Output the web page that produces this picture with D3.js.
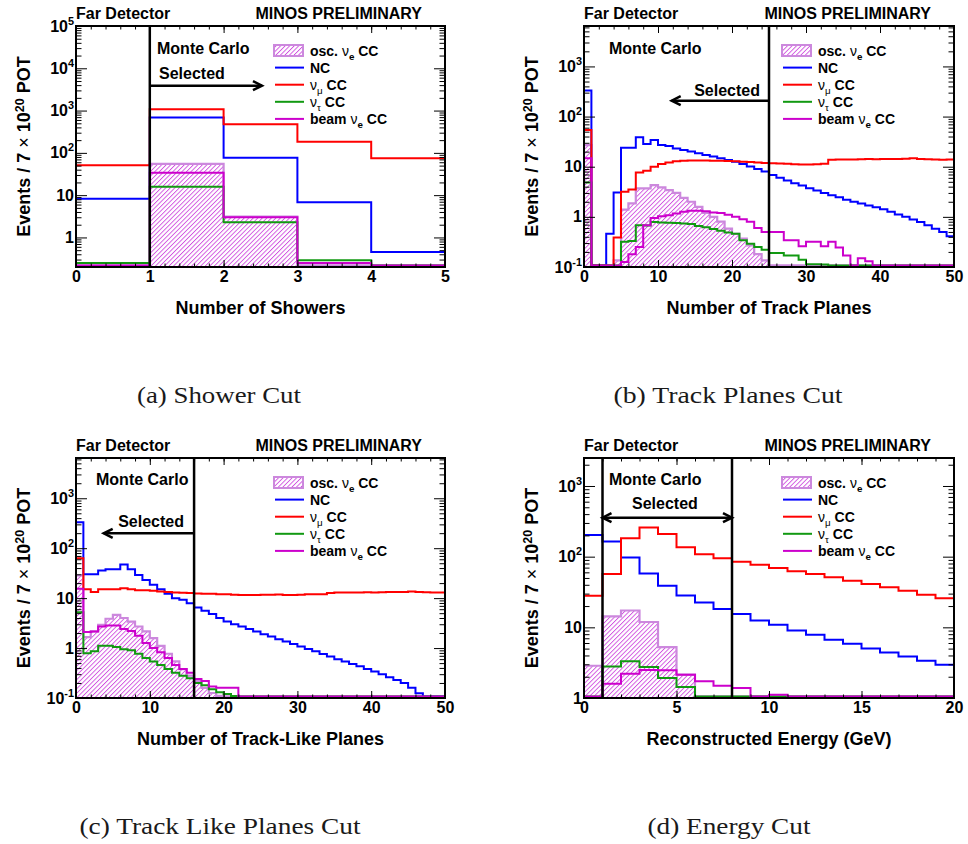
<!DOCTYPE html>
<html><head><meta charset="utf-8">
<script src="https://cdn.jsdelivr.net/npm/d3@7"></script>
<style>body{margin:0;background:#fff}svg{display:block}</style>
</head><body>
<svg id="c" width="968" height="844"></svg>
<script>
// ---------------- DATA ----------------
// (a) Number of showers, 5 bins 0..5
const aNC      = [8.2, 683, 77, 6.8, 0.45];
const aNumu    = [51, 1070, 475, 182, 75];
const aNutau   = [0.25, 15.7, 2.3, 0.29, 0];
const aBeamNue = [0, 34, 3.0, 0.25, 0];
const aOscNue  = [0, 55, 3.1, 0, 0];

// (b) Number of track planes, 50 bins 0..50
const bNC = [331,0,0,0.46,3.07,24,24,38.6,28.4,34,27,26,23,21.5,20,18.6,17.2,16.0,14.8,13.6,
  12.6,11.3,10.1,9.0,8.0,6.8,6.0,5.3,4.7,4.2,3.7,3.35,3.0,2.7,2.45,2.2,2.0,1.85,1.68,1.55,
  1.42,1.27,1.12,1.0,0.89,0.79,0.68,0.58,0.5,0.41];
const bNumu = [54,0,0,0,0.386,3.16,3.5,7.7,8.3,10,11.3,12.2,12.8,13.1,13.3,13.3,13.3,13.2,13.1,13.0,
  12.8,12.6,12.4,12.1,11.9,11.7,11.6,11.5,11.2,11.1,11.1,11.2,11.5,13.8,13.9,14.0,14.0,14.1,14.2,14.1,
  14.2,14.3,14.2,14.4,14.8,14.3,14.1,14.0,13.8,14.0];
const bNutau = [4.86,0,0,0,0,0.32,0.33,0.68,0.67,0.79,0.77,0.76,0.75,0.74,0.72,0.66,0.62,0.57,0.53,0.49,
  0.46,0.34,0.29,0.25,0.22,0.19,0.19,0.17,0.17,0.14,0.114,0.114,0.112,0,0,0,0,0,0,0,
  0,0,0,0,0,0,0,0,0,0];
const bBeamNue = [14.7,0,0,0,0,0.126,0.18,0.25,0.68,0.95,1.03,1.08,1.17,1.26,1.32,1.32,1.3,1.22,1.2,1.1,
  1.0,0.9,0.8,0.6,0.5,0.5,0.5,0.34,0.34,0.26,0.32,0.32,0.26,0.32,0.245,0.17,0,0.15,0.13,0,
  0,0,0,0,0,0,0,0,0,0];
const bOscNue = [27,0,0,0,0.136,1.4,1.85,3.7,3.7,4.3,3.86,3.4,3.0,2.4,2.0,1.58,1.2,1.0,0.8,0.58,
  0.46,0.37,0.27,0.18,0.136,0,0,0,0,0,0,0,0,0,0,0,0,0,0,0,
  0,0,0,0,0,0,0,0,0,0];

// (c) Number of track-like planes, 50 bins 0..50
const cNC = [331,30.2,30,35.8,38,38,47,38,29,23,18.5,15,12.2,10,9.3,7.9,6.5,5.6,4.8,4.0,
  3.4,3.0,2.7,2.4,2.15,1.9,1.7,1.5,1.35,1.2,1.08,0.96,0.86,0.76,0.68,0.6,0.54,0.48,0.43,0.38,
  0.34,0.3,0.26,0.23,0.2,0.16,0.125,0,0,0];
const cNumu = [63,15.1,13.2,15.1,15.1,15.1,15.8,15.1,14.3,14.3,14.0,13.5,13.2,13.0,12.8,12.6,12.4,12.2,12.2,12.0,
  11.9,11.7,11.6,11.5,11.6,11.7,11.7,11.8,11.6,11.5,11.7,11.9,12.0,11.9,12.6,12.9,13.0,12.9,13.0,13.1,
  13.0,13.1,13.2,13.3,13.3,13.5,13.2,13.1,13.0,13.0];
const cNutau = [5.2,0.79,0.86,1.11,1.11,1.05,0.95,0.9,0.77,0.63,0.54,0.46,0.38,0.32,0.28,0.25,0.2,0.18,0.15,0.13,
  0.12,0.11,0,0,0,0,0,0,0,0,0,0,0,0,0,0,0,0,0,0,0,0,0,0,0,0,0,0,0,0];
const cBeamNue = [15.4,2.09,2.15,2.7,2.84,2.84,2.4,2.2,1.76,1.26,1.0,0.82,0.63,0.46,0.38,0.32,0.24,0.22,0.17,0.16,
  0.16,0.16,0,0,0,0,0,0,0,0,0,0,0,0,0,0,0,0,0,0,0,0,0,0,0,0,0,0,0,0];
const cOscNue = [28.4,1.66,2.15,2.93,3.86,4.6,4.0,3.4,2.7,2.15,1.58,1.11,0.77,0.54,0.38,0.28,0.22,0.16,0.126,0.11,
  0,0,0,0,0,0,0,0,0,0,0,0,0,0,0,0,0,0,0,0,0,0,0,0,0,0,0,0,0,0];

// (d) Reconstructed energy, 20 bins 0..20 GeV
const dNumu = [27.9,57,182,258,210,136,108,95,85,77,69,62,57,51,45.5,41,37,33,28.8,25.9];
const dNC = [203,164,97,58,38.7,28.2,22.5,18.1,15.4,12.5,10.9,9.0,7.85,6.67,5.86,5.03,4.42,3.88,3.37,2.96];
const dOscNue = [2.86,14.3,17.3,11.9,5.26,2.14,0,0,0,0,0,0,0,0,0,0,0,0,0,0];
const dNutau = [1.05,2.8,3.3,2.74,1.92,1.43,1.02,1.0,0,0,0,0,0,0,0,0,0,0,0,0];
const dBeamNue = [0.9,1.59,2.2,2.5,2.46,2.14,1.72,1.49,1.38,1.05,1.11,1.05,0.98,0,0,0,0,0,0,0];

// Axis / annotation definitions
const xTitles = ["Number of Showers","Number of Track Planes","Number of Track-Like Planes","Reconstructed Energy (GeV)"];
const captions = ["(a) Shower Cut","(b) Track Planes Cut","(c) Track Like Planes Cut","(d) Energy Cut"];
const xRanges = [[0,5],[0,50],[0,50],[0,20]];
const nBins = [5,50,50,20];
const yRanges = [[0.2,1e5],[0.1,6400],[0.1,6400],[1,2490]];
const xMajorStep = [1,10,10,5];
const xMinorStep = [0.2,2,2,1];
const cutValues = [[1],[25],[16],[1,8]];
const arrowSpans = [[1,2.52],[25,11.85],[16,3.75],[1,8]];
const legendLabels = [
  [{t:"osc. "},{t:"ν",n:1},{t:"e",sub:1},{t:" CC"}],
  [{t:"NC"}],
  [{t:"ν",n:1},{t:"μ",sub:1,n:1},{t:" CC"}],
  [{t:"ν",n:1},{t:"τ",sub:1,n:1},{t:" CC"}],
  [{t:"beam "},{t:"ν",n:1},{t:"e",sub:1},{t:" CC"}]
];

// ---------------- LAYOUT / STYLE ----------------
const FONT = "'Liberation Sans', Arial, Helvetica, sans-serif";
const C = {nc:"#0000ff", numu:"#ff0000", nutau:"#119911", beam:"#cc00cc", osc:"#cc88dd", hatch:"#d050e0"};
const frames = [
  {left:76, top:26, w:369, h:241},
  {left:584, top:26, w:370, h:241},
  {left:76, top:458, w:369, h:240},
  {left:584, top:458, w:370, h:240}
];
const mcPos = [[81,28],[25,28],[20,27],[25,27]];
const selPos = [[83,53,"start"],[176,70,"end"],[108,69,"end"],[48,51,"start"]];
const arrowDy = [59.7,74.7,75.3,59.7];
const capPos = [[219,403],[728,403],[220,834],[729,834]];
const capWidth = [164, 229, 281, 163];

const svg = d3.select("#c");
svg.append("rect").attr("width",968).attr("height",844).attr("fill","#fff");
const defs = svg.append("defs");
const pat = defs.append("pattern").attr("id","hatch").attr("patternUnits","userSpaceOnUse")
  .attr("width",3.2).attr("height",3.2).attr("patternTransform","rotate(45)");
pat.append("rect").attr("x",0).attr("y",0).attr("width",3.2).attr("height",3.2).attr("fill","#fff");
pat.append("rect").attr("x",0).attr("y",0).attr("width",0.9).attr("height",3.2).attr("fill",C.hatch);

function rich(textSel, parts) {
  let shift = 0;
  parts.forEach(p => {
    const ts = textSel.append("tspan").text(p.t);
    let want = p.sub ? 4 : (p.sup ? -6 : 0);
    if (want !== shift) { ts.attr("dy", want - shift); shift = want; }
    if (p.sub || p.sup) ts.attr("font-size","70%");
    if (p.n) ts.attr("font-weight","normal");
  });
}

function supLabel(textSel, v) {
  const e = Math.round(Math.log10(v));
  textSel.text(null);
  if (e === 0) { textSel.append("tspan").text("1"); return; }
  if (e === 1) { textSel.append("tspan").text("10"); return; }
  textSel.append("tspan").text("10");
  textSel.append("tspan").attr("dy",-7).attr("font-size","68%").text(e < 0 ? "-" + (-e) : String(e));
}

const series = [
  {nc:aNC, numu:aNumu, nutau:aNutau, beam:aBeamNue, osc:aOscNue},
  {nc:bNC, numu:bNumu, nutau:bNutau, beam:bBeamNue, osc:bOscNue},
  {nc:cNC, numu:cNumu, nutau:cNutau, beam:cBeamNue, osc:cOscNue},
  {nc:dNC, numu:dNumu, nutau:dNutau, beam:dBeamNue, osc:dOscNue}
];

frames.forEach((f, i) => {
  const g = svg.append("g").attr("font-family", FONT).attr("font-weight","bold");
  const x = d3.scaleLinear().domain(xRanges[i]).range([f.left, f.left + f.w]);
  const y = d3.scaleLog().domain(yRanges[i]).range([f.top + f.h, f.top]);
  const ymin = yRanges[i][0];
  const n = nBins[i];
  const bw = (xRanges[i][1] - xRanges[i][0]) / n;
  const edges = d3.range(n + 1).map(k => xRanges[i][0] + k * bw);
  const pts = vals => vals.map((v, k) => [edges[k], v]).concat([[edges[n], vals[n - 1]]]);
  const bottomY = f.top + f.h;
  const clampY = v => Math.min(y(Math.max(v, ymin)), bottomY - 1.6);
  const v0 = v => y(Math.max(v, ymin));
  const line = d3.line().x(d => x(d[0])).y(d => clampY(d[1])).curve(d3.curveStepAfter);
  const area = d3.area().x(d => x(d[0])).y0(bottomY).y1(d => v0(d[1])).curve(d3.curveStepAfter);
  const s = series[i];

  // hatched osc nue
  g.append("path").attr("d", area(pts(s.osc))).attr("fill","url(#hatch)");
  g.append("path").attr("d", line(pts(s.osc))).attr("fill","none").attr("stroke",C.osc).attr("stroke-width",2.2);
  [["nc",C.nc],["numu",C.numu],["nutau",C.nutau],["beam",C.beam]].forEach(([k,col]) => {
    g.append("path").attr("d", line(pts(s[k]))).attr("fill","none").attr("stroke",col).attr("stroke-width",2);
  });

  // axes (ticks inside, ROOT style)
  const xMaj = d3.range(xRanges[i][0], xRanges[i][1] + 1e-9, xMajorStep[i]);
  const xMin = d3.range(xRanges[i][0], xRanges[i][1] + 1e-9, xMinorStep[i]);
  const lo = Math.floor(Math.log10(ymin)), hi = Math.ceil(Math.log10(yRanges[i][1]));
  const yMaj = d3.range(lo, hi + 1).map(e => Math.pow(10, e)).filter(v => v >= ymin*0.999 && v <= yRanges[i][1]*1.001);
  const yMin = [];
  d3.range(lo, hi + 1).forEach(e => d3.range(2, 10).forEach(k => {
    const v = k * Math.pow(10, e);
    if (v >= ymin*0.999 && v <= yRanges[i][1]) yMin.push(v);
  }));

  const ax = g.append("g").attr("font-family", FONT);
  ax.append("g").attr("transform",`translate(0,${bottomY})`)
    .call(d3.axisBottom(x).tickValues(xMaj).tickSize(-7).tickPadding(4).tickFormat(d3.format("d")));
  ax.append("g").attr("transform",`translate(0,${bottomY})`)
    .call(d3.axisBottom(x).tickValues(xMin).tickSize(-3.5).tickFormat(""));
  ax.append("g").attr("transform",`translate(0,${f.top})`)
    .call(d3.axisTop(x).tickValues(xMaj).tickSize(-7).tickFormat(""));
  ax.append("g").attr("transform",`translate(0,${f.top})`)
    .call(d3.axisTop(x).tickValues(xMin).tickSize(-3.5).tickFormat(""));
  const left = ax.append("g").attr("transform",`translate(${f.left},0)`)
    .call(d3.axisLeft(y).tickValues(yMaj).tickSize(-11).tickPadding(2));
  ax.append("g").attr("transform",`translate(${f.left},0)`)
    .call(d3.axisLeft(y).tickValues(yMin).tickSize(-5.5).tickFormat(""));
  ax.append("g").attr("transform",`translate(${f.left + f.w},0)`)
    .call(d3.axisRight(y).tickValues(yMaj).tickSize(-11).tickFormat(""));
  ax.append("g").attr("transform",`translate(${f.left + f.w},0)`)
    .call(d3.axisRight(y).tickValues(yMin).tickSize(-5.5).tickFormat(""));
  ax.selectAll(".domain").remove();
  ax.selectAll(".tick line").attr("stroke","#000").attr("stroke-width",1);
  ax.selectAll("text").attr("font-size",16).attr("font-weight","bold").attr("fill","#000");
  left.selectAll(".tick text").each(function(d) { supLabel(d3.select(this), d); });

  // cut lines
  cutValues[i].forEach(cv => {
    g.append("line").attr("x1",x(cv)).attr("x2",x(cv)).attr("y1",f.top).attr("y2",bottomY)
      .attr("stroke","#000").attr("stroke-width",2.5);
  });

  // frame
  g.append("rect").attr("x",f.left).attr("y",f.top).attr("width",f.w).attr("height",f.h)
    .attr("fill","none").attr("stroke","#000").attr("stroke-width",2);

  // arrow
  const ay = f.top + arrowDy[i];
  const [a0, a1] = arrowSpans[i];
  const xa0 = x(a0), xa1 = x(a1);
  g.append("line").attr("x1",xa0).attr("x2",xa1).attr("y1",ay).attr("y2",ay)
    .attr("stroke","#000").attr("stroke-width",2.5);
  const head = (tx, dir) => g.append("path")
    .attr("d",`M${tx - dir*9},${ay-4.5} L${tx},${ay} L${tx - dir*9},${ay+4.5}`)
    .attr("fill","none").attr("stroke","#000").attr("stroke-width",2.5).attr("stroke-linejoin","miter");
  head(xa1, Math.sign(xa1 - xa0));
  if (i === 3) head(xa0, -1);

  // texts
  g.append("text").attr("x",f.left).attr("y",f.top-7).attr("font-size",16).text("Far Detector");
  g.append("text").attr("x",f.left+f.w-23).attr("y",f.top-7).attr("font-size",16)
    .attr("text-anchor","end").text("MINOS PRELIMINARY");
  g.append("text").attr("x",f.left+mcPos[i][0]).attr("y",f.top+mcPos[i][1]).attr("font-size",16).text("Monte Carlo");
  g.append("text").attr("x",f.left+selPos[i][0]).attr("y",f.top+selPos[i][1]).attr("font-size",16)
    .attr("text-anchor",selPos[i][2]).text("Selected");

  // axis titles
  g.append("text").attr("x",f.left+f.w/2).attr("y",bottomY+47).attr("font-size",18)
    .attr("text-anchor","middle").text(xTitles[i]);
  const yt = g.append("text").attr("transform",`translate(${f.left-46},${f.top+f.h/2}) rotate(-90)`)
    .attr("font-size",18).attr("text-anchor","middle");
  rich(yt, [{t:"Events / 7 "},{t:"×",n:1},{t:" 10"},{t:"20",sup:1},{t:" POT"}]);

  // legend
  const lx = f.left + 198, ly0 = f.top + 24.5, dy = 17.1;
  legendLabels.forEach((lab, k) => {
    const cy = ly0 + k*dy;
    if (k === 0) {
      g.append("rect").attr("x",lx).attr("y",cy-5.5).attr("width",29).attr("height",11)
        .attr("fill","url(#hatch)").attr("stroke",C.osc).attr("stroke-width",2);
    } else {
      const col = [C.nc, C.numu, C.nutau, C.beam][k-1];
      g.append("line").attr("x1",lx+1).attr("x2",lx+30).attr("y1",cy).attr("y2",cy)
        .attr("stroke",col).attr("stroke-width",2);
    }
    const t = g.append("text").attr("x",lx+36).attr("y",cy+5).attr("font-size",14);
    rich(t, lab);
  });

  // caption
  svg.append("text").attr("x",capPos[i][0]).attr("y",capPos[i][1])
    .attr("font-family","'Liberation Serif','DejaVu Serif',serif").attr("font-size",23)
    .attr("text-anchor","middle").attr("fill","#1a1a1a")
    .attr("textLength",capWidth[i]).attr("lengthAdjust","spacingAndGlyphs").text(captions[i]);
});
</script>
</body></html>
